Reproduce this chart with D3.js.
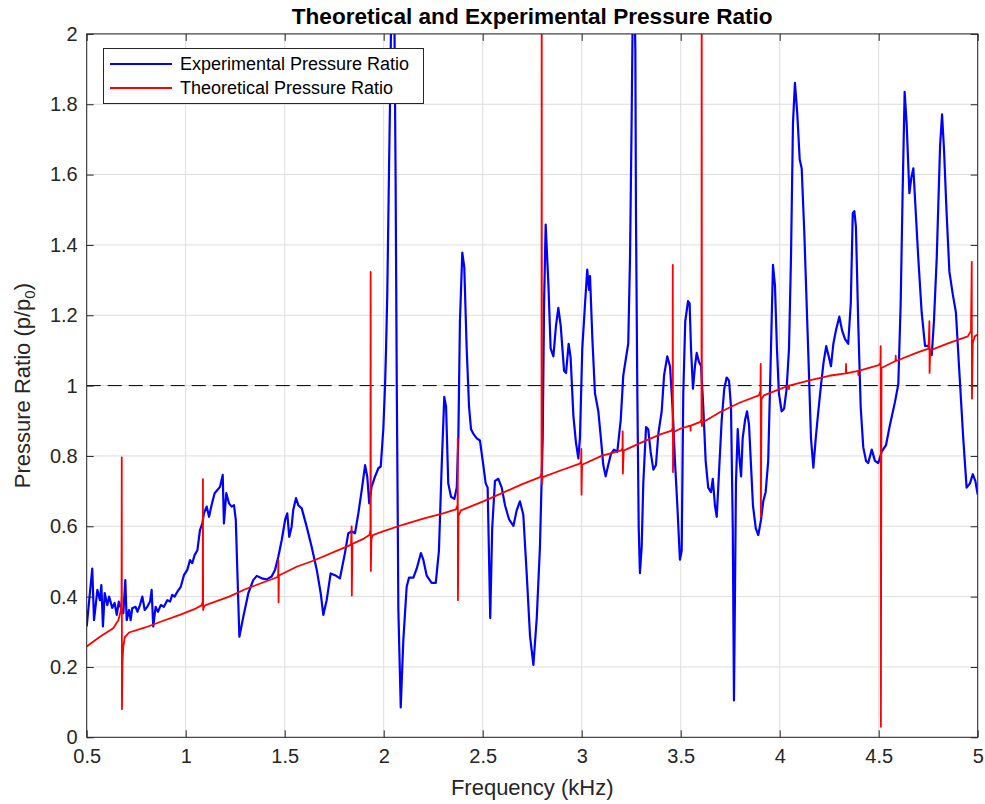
<!DOCTYPE html>
<html><head><meta charset="utf-8">
<script src="https://cdn.jsdelivr.net/npm/d3@7"></script>
<style>body{margin:0;background:#fff} text{font-family:"Liberation Sans",Arial,Helvetica,sans-serif;fill:#262626}</style>
</head><body><svg id="chart" width="985" height="804"></svg>
<script>
const titleText = "Theoretical and Experimental Pressure Ratio";
const xLabel = "Frequency (kHz)";
const xTicks = [0.5,1,1.5,2,2.5,3,3.5,4,4.5,5];
const yTicks = [0,0.2,0.4,0.6,0.8,1,1.2,1.4,1.6,1.8,2];
const seriesNames = ["Experimental Pressure Ratio","Theoretical Pressure Ratio"];
const seriesColors = ["#0000ff","#ff0000"];
const referenceLevel = 1;

// Experimental pressure ratio: [frequency kHz, p/p0]
const experimental = [[0.5,0.315],[0.528,0.48],[0.537,0.333],[0.554,0.419],[0.567,0.39],[0.574,0.433],[0.582,0.315],[0.591,0.41],[0.604,0.376],[0.613,0.40],[0.629,0.368],[0.641,0.382],[0.652,0.348],[0.662,0.386],[0.672,0.368],[0.685,0.353],[0.695,0.447],[0.702,0.333],[0.714,0.362],[0.722,0.333],[0.730,0.367],[0.747,0.371],[0.756,0.357],[0.769,0.376],[0.781,0.40],[0.793,0.362],[0.806,0.371],[0.820,0.386],[0.828,0.419],[0.836,0.315],[0.848,0.371],[0.860,0.357],[0.874,0.376],[0.890,0.371],[0.907,0.39],[0.921,0.386],[0.932,0.405],[0.944,0.40],[0.958,0.414],[0.975,0.428],[0.991,0.461],[1.008,0.476],[1.022,0.504],[1.033,0.495],[1.045,0.518],[1.059,0.532],[1.072,0.589],[1.084,0.608],[1.092,0.637],[1.106,0.656],[1.118,0.627],[1.129,0.656],[1.146,0.694],[1.160,0.703],[1.173,0.712],[1.187,0.746],[1.193,0.608],[1.205,0.694],[1.219,0.665],[1.232,0.656],[1.244,0.66],[1.253,0.618],[1.271,0.286],[1.291,0.343],[1.316,0.409],[1.341,0.447],[1.359,0.459],[1.384,0.452],[1.409,0.449],[1.434,0.457],[1.451,0.476],[1.468,0.514],[1.485,0.561],[1.502,0.618],[1.513,0.637],[1.523,0.570],[1.535,0.599],[1.543,0.646],[1.557,0.680],[1.569,0.660],[1.586,0.651],[1.611,0.599],[1.636,0.542],[1.662,0.476],[1.682,0.409],[1.695,0.348],[1.712,0.390],[1.732,0.466],[1.754,0.461],[1.779,0.452],[1.804,0.523],[1.821,0.580],[1.838,0.585],[1.855,0.580],[1.872,0.637],[1.889,0.703],[1.906,0.774],[1.917,0.741],[1.927,0.665],[1.939,0.713],[1.956,0.741],[1.973,0.765],[1.985,0.77],[1.998,0.876],[2.007,1.004],[2.012,1.106],[2.018,1.26],[2.027,1.62],[2.032,1.81],[2.046,2.4],[2.052,2.2],[2.060,1.6],[2.066,1.0],[2.070,0.7],[2.074,0.364],[2.086,0.085],[2.099,0.275],[2.116,0.428],[2.128,0.454],[2.150,0.454],[2.167,0.48],[2.188,0.524],[2.200,0.505],[2.217,0.46],[2.242,0.439],[2.263,0.439],[2.279,0.531],[2.293,0.774],[2.306,0.968],[2.315,0.94],[2.326,0.722],[2.340,0.684],[2.357,0.678],[2.369,0.71],[2.377,0.85],[2.385,1.183],[2.397,1.378],[2.407,1.336],[2.419,1.106],[2.431,0.94],[2.441,0.876],[2.453,0.863],[2.470,0.85],[2.486,0.844],[2.503,0.774],[2.515,0.722],[2.525,0.71],[2.538,0.339],[2.548,0.595],[2.562,0.729],[2.579,0.735],[2.596,0.71],[2.613,0.659],[2.633,0.62],[2.655,0.601],[2.672,0.646],[2.688,0.671],[2.705,0.633],[2.722,0.467],[2.739,0.288],[2.756,0.206],[2.773,0.339],[2.789,0.54],[2.803,0.85],[2.810,1.234],[2.818,1.458],[2.832,1.285],[2.843,1.106],[2.857,1.083],[2.870,1.17],[2.882,1.221],[2.894,1.17],[2.911,1.042],[2.921,1.036],[2.934,1.119],[2.944,1.08],[2.958,0.914],[2.971,0.838],[2.983,0.793],[2.991,0.85],[3.003,1.106],[3.017,1.234],[3.028,1.33],[3.037,1.272],[3.042,1.311],[3.054,1.132],[3.067,0.978],[3.084,0.927],[3.097,0.85],[3.109,0.774],[3.121,0.742],[3.134,0.774],[3.148,0.806],[3.163,0.818],[3.180,0.812],[3.197,0.902],[3.210,1.029],[3.224,1.08],[3.235,1.119],[3.244,1.362],[3.252,1.746],[3.262,2.3],[3.271,1.95],[3.274,1.49],[3.281,0.978],[3.288,0.595],[3.294,0.467],[3.303,0.543],[3.311,0.722],[3.325,0.882],[3.336,0.876],[3.348,0.812],[3.362,0.761],[3.375,0.774],[3.387,0.863],[3.404,0.927],[3.416,1.029],[3.432,1.083],[3.446,1.055],[3.460,0.927],[3.471,0.786],[3.483,0.659],[3.496,0.505],[3.505,0.531],[3.513,0.978],[3.523,1.183],[3.537,1.24],[3.545,1.234],[3.552,1.106],[3.562,0.991],[3.572,1.055],[3.581,1.093],[3.592,1.068],[3.603,1.055],[3.614,0.94],[3.626,0.786],[3.639,0.71],[3.653,0.697],[3.662,0.735],[3.673,0.659],[3.682,0.627],[3.693,0.748],[3.707,0.902],[3.720,0.991],[3.732,1.023],[3.744,1.014],[3.754,0.94],[3.763,0.595],[3.769,0.105],[3.774,0.403],[3.779,0.722],[3.788,0.876],[3.796,0.799],[3.805,0.742],[3.813,0.85],[3.825,0.902],[3.835,0.927],[3.845,0.889],[3.855,0.774],[3.865,0.659],[3.879,0.595],[3.892,0.575],[3.906,0.62],[3.917,0.671],[3.929,0.697],[3.942,0.786],[3.956,1.106],[3.966,1.343],[3.976,1.285],[3.986,1.106],[3.996,0.978],[4.010,0.927],[4.022,0.934],[4.035,0.991],[4.047,1.106],[4.057,1.362],[4.067,1.746],[4.077,1.861],[4.089,1.771],[4.101,1.643],[4.111,1.618],[4.124,1.439],[4.136,1.234],[4.148,1.029],[4.158,0.85],[4.170,0.767],[4.182,0.85],[4.195,0.927],[4.209,1.004],[4.222,1.068],[4.235,1.112],[4.249,1.08],[4.259,1.055],[4.271,1.119],[4.284,1.157],[4.301,1.196],[4.315,1.157],[4.330,1.132],[4.346,1.119],[4.359,1.234],[4.369,1.49],[4.377,1.496],[4.385,1.451],[4.397,1.17],[4.409,0.94],[4.422,0.825],[4.436,0.786],[4.447,0.78],[4.465,0.818],[4.481,0.786],[4.498,0.78],[4.515,0.812],[4.537,0.831],[4.557,0.889],[4.582,0.953],[4.599,1.004],[4.611,1.234],[4.621,1.554],[4.631,1.835],[4.641,1.746],[4.655,1.547],[4.665,1.592],[4.675,1.618],[4.685,1.515],[4.700,1.362],[4.717,1.208],[4.734,1.113],[4.751,1.113],[4.768,1.087],[4.779,1.183],[4.793,1.362],[4.810,1.682],[4.820,1.771],[4.830,1.669],[4.843,1.49],[4.857,1.324],[4.874,1.26],[4.890,1.208],[4.907,1.042],[4.927,0.85],[4.944,0.71],[4.961,0.722],[4.975,0.748],[4.988,0.729],[5.0,0.69]];

// Theoretical pressure ratio: [frequency kHz, p/p0]
const theoretical = [[0.5,0.258],[0.567,0.286],[0.634,0.31],[0.66,0.333],[0.672,0.36],[0.676,0.40],[0.677,0.796],[0.678,0.08],[0.681,0.22],[0.685,0.258],[0.692,0.284],[0.714,0.298],[0.80,0.313],[0.88,0.33],[0.97,0.348],[1.05,0.366],[1.08,0.375],[1.086,0.385],[1.087,0.734],[1.088,0.362],[1.091,0.37],[1.10,0.376],[1.22,0.40],[1.30,0.421],[1.38,0.438],[1.462,0.455],[1.467,0.462],[1.468,0.505],[1.469,0.384],[1.471,0.46],[1.56,0.485],[1.644,0.502],[1.813,0.542],[1.835,0.548],[1.838,0.60],[1.839,0.403],[1.842,0.55],[1.90,0.565],[1.928,0.575],[1.933,0.59],[1.934,1.323],[1.935,0.473],[1.938,0.565],[1.945,0.575],[2.0,0.586],[2.1,0.605],[2.2,0.622],[2.3,0.637],[2.365,0.648],[2.373,0.66],[2.374,0.85],[2.375,0.39],[2.378,0.63],[2.39,0.645],[2.5,0.67],[2.6,0.695],[2.7,0.72],[2.79,0.74],[2.797,0.75],[2.798,2.6],[2.799,0.72],[2.803,0.74],[2.9,0.76],[2.99,0.778],[2.997,0.785],[2.998,0.82],[2.999,0.69],[3.002,0.775],[3.1,0.80],[3.2,0.816],[3.206,0.822],[3.207,0.87],[3.208,0.75],[3.212,0.815],[3.3,0.838],[3.4,0.862],[3.455,0.872],[3.459,0.88],[3.46,1.343],[3.461,0.754],[3.465,0.868],[3.5,0.878],[3.549,0.886],[3.55,0.872],[3.551,0.886],[3.6,0.897],[3.605,0.905],[3.606,2.6],[3.607,0.885],[3.61,0.895],[3.7,0.925],[3.8,0.952],[3.895,0.972],[3.903,0.985],[3.904,1.062],[3.905,0.628],[3.908,0.962],[3.92,0.972],[4.0,0.99],[4.046,1.0],[4.047,0.99],[4.048,1.0],[4.15,1.015],[4.25,1.028],[4.334,1.035],[4.335,1.062],[4.336,1.035],[4.396,1.042],[4.397,1.03],[4.398,1.042],[4.5,1.058],[4.509,1.065],[4.51,1.112],[4.511,0.03],[4.514,1.05],[4.585,1.07],[4.586,1.085],[4.587,1.07],[4.7,1.095],[4.752,1.105],[4.756,1.183],[4.757,1.036],[4.76,1.10],[4.85,1.12],[4.95,1.14],[4.966,1.155],[4.97,1.352],[4.971,0.963],[4.975,1.12],[4.985,1.14],[5.0,1.145]];

const svg = d3.select("#chart");
const P = {left:86.7, right:977.7, top:33.9, bottom:737.3};
const x = d3.scaleLinear().domain([0.5,5]).range([P.left,P.right]);
const y = d3.scaleLinear().domain([0,2]).range([P.bottom,P.top]);
const axisColor = "#262626";

svg.append("rect").attr("x",P.left).attr("y",P.top).attr("width",P.right-P.left).attr("height",P.bottom-P.top).attr("fill","#fff");

// grid
const grid = svg.append("g").attr("stroke","#dedede").attr("stroke-width",1);
grid.selectAll(".gx").data(xTicks).join("line").attr("x1",d=>x(d)).attr("x2",d=>x(d)).attr("y1",P.top).attr("y2",P.bottom);
grid.selectAll(".gy").data(yTicks).join("line").attr("y1",d=>y(d)).attr("y2",d=>y(d)).attr("x1",P.left).attr("x2",P.right);

svg.append("defs").append("clipPath").attr("id","clip").append("rect")
  .attr("x",P.left).attr("y",P.top).attr("width",P.right-P.left).attr("height",P.bottom-P.top);

const plot = svg.append("g").attr("clip-path","url(#clip)");
const line = d3.line().x(d=>x(d[0])).y(d=>y(d[1]));

plot.append("line").attr("x1",x(0.5)).attr("x2",x(5)).attr("y1",y(referenceLevel)).attr("y2",y(referenceLevel))
  .attr("stroke","#000").attr("stroke-width",1).attr("stroke-dasharray","14,7");

plot.append("path").datum(experimental).attr("d",line).attr("fill","none")
  .attr("stroke",seriesColors[0]).attr("stroke-width",2.2).attr("stroke-linejoin","round");
plot.append("path").datum(theoretical).attr("d",line).attr("fill","none")
  .attr("stroke",seriesColors[1]).attr("stroke-width",1.8).attr("stroke-linejoin","round");

// axes
const fmt = d => String(d);
function styleAxis(g){
  g.select(".domain").remove();
  g.selectAll(".tick line").attr("stroke",axisColor).attr("stroke-width",1);
  g.selectAll(".tick text").attr("fill",axisColor).style("font-size","20px")
   .style("font-family",'"Liberation Sans",Arial,Helvetica,sans-serif');
}
svg.append("g").attr("transform",`translate(0,${P.bottom})`)
  .call(d3.axisBottom(x).tickValues(xTicks).tickFormat(fmt).tickSize(-7).tickPadding(12)).call(styleAxis);
svg.append("g").attr("transform",`translate(0,${P.top})`)
  .call(d3.axisTop(x).tickValues(xTicks).tickFormat("").tickSize(-7)).call(styleAxis);
svg.append("g").attr("transform",`translate(${P.left},0)`)
  .call(d3.axisLeft(y).tickValues(yTicks).tickFormat(fmt).tickSize(-7).tickPadding(9)).call(styleAxis);
svg.append("g").attr("transform",`translate(${P.right},0)`)
  .call(d3.axisRight(y).tickValues(yTicks).tickFormat("").tickSize(-7)).call(styleAxis);

svg.append("rect").attr("x",P.left).attr("y",P.top).attr("width",P.right-P.left).attr("height",P.bottom-P.top)
  .attr("fill","none").attr("stroke",axisColor).attr("stroke-width",1);

// title and labels
svg.append("text").attr("x",(P.left+P.right)/2).attr("y",24).attr("text-anchor","middle")
  .style("font-size","22.6px").style("font-weight","bold").style("fill","#000").text(titleText);
svg.append("text").attr("x",(P.left+P.right)/2).attr("y",795).attr("text-anchor","middle")
  .style("font-size","22px").text(xLabel);
const yl = svg.append("text").attr("transform",`translate(30,${(P.top+P.bottom)/2}) rotate(-90)`)
  .attr("text-anchor","middle").style("font-size","22px");
yl.append("tspan").text("Pressure Ratio (p/p");
yl.append("tspan").attr("dy",5).style("font-size","15px").text("0");
yl.append("tspan").attr("dy",-5).text(")");

// legend
const lg = svg.append("g");
lg.append("rect").attr("x",103.5).attr("y",48.5).attr("width",320).attr("height",55)
  .attr("fill","#fff").attr("stroke",axisColor).attr("stroke-width",1);
seriesNames.forEach((n,i)=>{
  const yy = 64 + i*24;
  lg.append("line").attr("x1",110).attr("x2",172).attr("y1",yy).attr("y2",yy)
    .attr("stroke",seriesColors[i]).attr("stroke-width",2.2);
  lg.append("text").attr("x",180).attr("y",yy+6).style("font-size","18px").style("fill","#000").text(n);
});
</script></body></html>
